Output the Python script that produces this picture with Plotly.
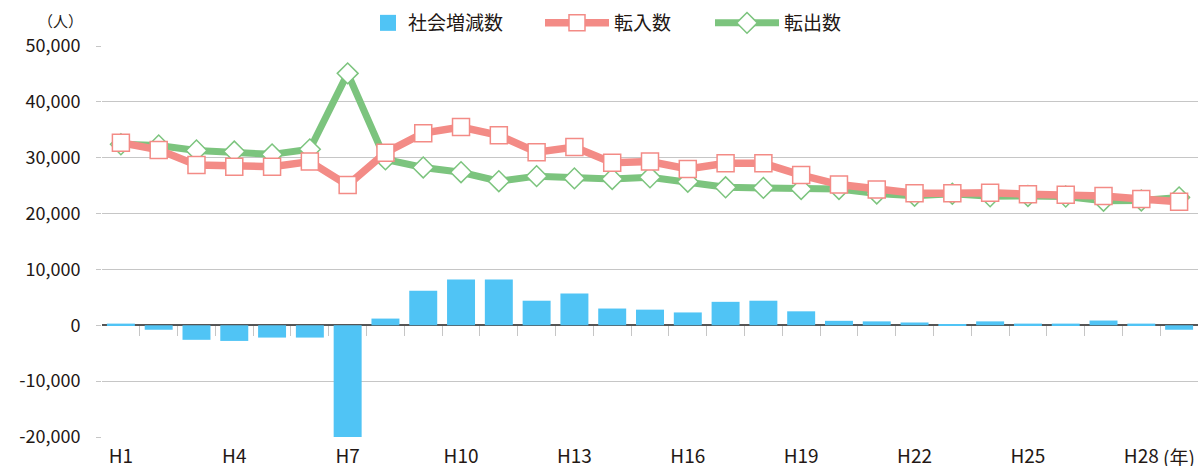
import plotly.graph_objects as go

years = [f"H{i}" for i in range(1, 30)]
net_change = [300, -800, -2600, -2800, -2200, -2200, -20000, 1200, 6200, 8200,
              8200, 4400, 5700, 3000, 2800, 2300, 4200, 4400, 2500, 800,
              700, 500, 100, 700, 300, 300, 850, 300, -800]
moved_in = [32700, 31400, 28700, 28400, 28400, 29300, 25100, 30900, 34400, 35500,
            34000, 31000, 31900, 29100, 29300, 28000, 29000, 29000, 26900, 25200,
            24300, 23650, 23650, 23750, 23450, 23350, 23150, 22600, 22100]
moved_out = [32400, 32200, 31300, 31100, 30600, 31500, 45100, 29700, 28250, 27400,
             25800, 26700, 26300, 26200, 26500, 25700, 24700, 24600, 24400, 24400,
             23600, 23200, 23550, 23100, 23150, 23050, 22300, 22350, 22900]
x_tick_labels = ["H1", "H4", "H7", "H10", "H13", "H16", "H19", "H22", "H25", "H28"]
y_ticks = [-20000, -10000, 0, 10000, 20000, 30000, 40000, 50000]
y_tick_labels = ["-20,000", "-10,000", "0", "10,000", "20,000", "30,000", "40,000", "50,000"]

FONT = "Noto Sans CJK JP"
TXT = "#231815"
BLUE = "#50C4F5"
RED = "#F38B86"
GREEN = "#7CC47E"
GRID = "#C6C6C6"

W, H = 1198, 466
ML, MT, MB = 102, 46, 29
PW = W - ML
PH = H - MT - MB


def px_x(p):
    return (p - ML) / PW


def px_y(p):
    return 1 + (MT - p) / PH


fig = go.Figure()
fig.add_trace(go.Bar(x=years, y=net_change, name="社会増減数", marker=dict(color=BLUE, line=dict(width=0)),
                     showlegend=False))
# legend proxy for the bars (larger square symbol, as in the reference)
fig.add_trace(go.Scatter(x=[None], y=[None], name="社会増減数", mode="markers",
                         marker=dict(symbol="square", size=17, color=BLUE), legend="legend"))
fig.add_trace(go.Scatter(x=years, y=moved_out, name="転出数", mode="lines+markers",
                         line=dict(color=GREEN, width=7),
                         marker=dict(symbol="diamond", size=16, color="white", line=dict(color=GREEN, width=1.5)),
                         legend="legend3"))
fig.add_trace(go.Scatter(x=years, y=moved_in, name="転入数", mode="lines+markers",
                         line=dict(color=RED, width=7.5),
                         marker=dict(symbol="square", size=17, color="white", line=dict(color=RED, width=1.5)),
                         legend="legend2"))

n = len(years)
leg_common = dict(orientation="h", yanchor="middle", y=px_y(23), xanchor="left",
                  font=dict(size=19, color=TXT), bgcolor="rgba(0,0,0,0)")
fig.update_layout(
    width=W, height=H,
    margin=dict(l=ML, r=0, t=MT, b=MB, autoexpand=False),
    template="none",
    plot_bgcolor="white", paper_bgcolor="white",
    font=dict(family=FONT, size=19, color=TXT),
    bargap=0.26,
    showlegend=True,
    legend=dict(x=px_x(368), itemwidth=30, **leg_common),
    legend2=dict(x=px_x(540), itemwidth=64, **leg_common),
    legend3=dict(x=px_x(710), itemwidth=64, **leg_common),
    xaxis=dict(type="category", range=[-0.5, n - 0.5], tickmode="array", tickvals=x_tick_labels,
               ticktext=x_tick_labels, ticks="", showgrid=False, showline=False, zeroline=False,
               automargin=False, ticklabelstandoff=6, tickfont=dict(size=19, color=TXT)),
    xaxis2=dict(overlaying="x", anchor="free", position=20000 / 70000, type="linear",
                range=[-0.5, n - 0.5], tickmode="array", tickvals=[i + 0.5 for i in range(n - 1)],
                ticks="outside", ticklen=10, tickwidth=1, tickcolor=GRID, showticklabels=False,
                showgrid=False, showline=False, zeroline=False, automargin=False),
    yaxis=dict(range=[-20000, 50000], tickmode="array", tickvals=y_ticks, ticktext=y_tick_labels,
               showgrid=True, gridcolor=GRID, gridwidth=1, zeroline=True, zerolinecolor="#555555",
               zerolinewidth=1.5, ticks="outside", ticklen=5, tickcolor=GRID, ticklabelstandoff=12,
               showline=False, automargin=False, tickfont=dict(size=18, color=TXT)),
)
fig.add_trace(go.Scatter(x=[0], y=[0], xaxis="x2", mode="markers", marker=dict(opacity=0),
                         showlegend=False, hoverinfo="skip"))

fig.add_annotation(text="（人）", xref="paper", yref="paper", x=px_x(60), y=px_y(21),
                   xanchor="center", yanchor="middle", showarrow=False, font=dict(size=15, color=TXT))
fig.add_annotation(text="(年)", xref="paper", yref="paper", x=px_x(1161), y=px_y(456),
                   xanchor="left", yanchor="middle", showarrow=False, font=dict(size=19, color=TXT))

fig.write_html("out.html", config={"displayModeBar": False},
               post_script="document.body.style.margin='0';document.body.style.overflow='hidden';")
